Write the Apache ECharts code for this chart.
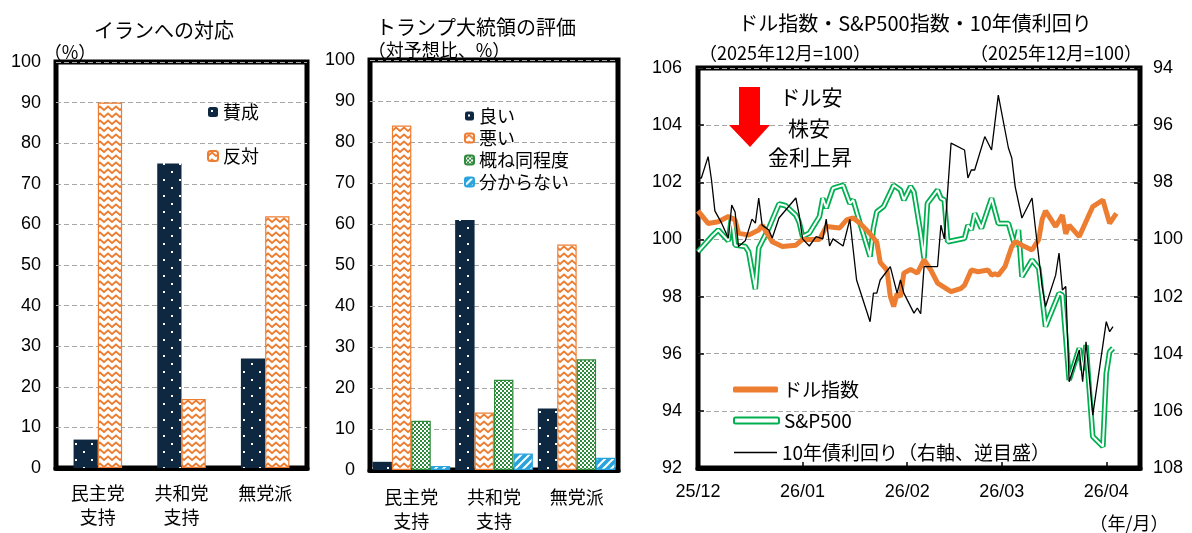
<!DOCTYPE html>
<html><head><meta charset="utf-8">
<script src="https://cdn.jsdelivr.net/npm/echarts@6/dist/echarts.min.js"></script>
<style>html,body{margin:0;padding:0;background:#fff}#c{width:1192px;height:533px}</style>
</head><body><div id="c"></div>
<script>
// ---------- Panel 1: イランへの対応 ----------
const iranCategories = ['民主党\n支持', '共和党\n支持', '無党派'];
const iranFavor = [7, 75, 27];     // 賛成
const iranOppose = [90, 17, 62];   // 反対
// ---------- Panel 2: トランプ大統領の評価 ----------
const trumpCategories = ['民主党\n支持', '共和党\n支持', '無党派'];
const trumpGood = [2, 61, 15];     // 良い
const trumpBad = [84, 14, 55];     // 悪い
const trumpSame = [12, 22, 27];    // 概ね同程度
const trumpUnknown = [1, 4, 3];    // 分からない
// ---------- Panel 3 ----------
const xStartDate = '2025-12-01';
const xEndDate = '2026-04-11';
const xTickDates = ['2025-12-01', '2026-01-01', '2026-02-01', '2026-03-01', '2026-04-01'];
const xTickLabels = ['25/12', '26/01', '26/02', '26/03', '26/04'];

const dxyDates = ['2025-12-01','2025-12-04','2025-12-07','2025-12-10','2025-12-12','2025-12-13','2025-12-16','2025-12-19','2025-12-20','2025-12-23','2025-12-26','2025-12-30',
 '2026-01-01','2026-01-06','2026-01-08','2026-01-12','2026-01-14','2026-01-16','2026-01-18','2026-01-21','2026-01-23','2026-01-24','2026-01-26','2026-01-27','2026-01-28','2026-01-29','2026-01-30','2026-01-31',
 '2026-02-02','2026-02-04','2026-02-06','2026-02-08','2026-02-10','2026-02-14','2026-02-17','2026-02-18','2026-02-20','2026-02-22','2026-02-25','2026-02-26','2026-02-27','2026-02-28',
 '2026-03-02','2026-03-04','2026-03-05','2026-03-06','2026-03-07','2026-03-10','2026-03-12','2026-03-13','2026-03-14','2026-03-17','2026-03-19','2026-03-20','2026-03-21','2026-03-24','2026-03-28','2026-03-31',
 '2026-04-02','2026-04-04'];
const dxyValues = [101.0,100.56,100.62,100.8,100.68,100.22,100.15,100.33,100.5,99.92,99.75,99.8,
 100.0,100.0,100.45,100.4,100.68,100.75,100.57,100.2,99.9,99.2,98.93,98.0,97.65,98.1,98.0,98.82,
 98.95,98.82,99.28,98.93,98.47,98.17,98.29,98.4,98.93,98.87,98.93,98.75,98.8,98.75,
 99.05,99.75,99.92,99.87,99.8,99.63,100.0,100.7,101.0,100.45,100.85,100.2,100.5,100.1,101.15,101.38,
 100.56,100.91];

const spxDates = ['2025-12-01','2025-12-05','2025-12-07','2025-12-10','2025-12-11','2025-12-12','2025-12-15','2025-12-16','2025-12-18','2025-12-19','2025-12-22','2025-12-25','2025-12-27','2025-12-30','2025-12-31',
 '2026-01-01','2026-01-03','2026-01-06','2026-01-07','2026-01-08','2026-01-10','2026-01-13','2026-01-15','2026-01-16','2026-01-17','2026-01-21','2026-01-22','2026-01-23','2026-01-25','2026-01-28','2026-01-30','2026-01-31',
 '2026-02-01','2026-02-02','2026-02-03','2026-02-05','2026-02-06','2026-02-07','2026-02-10','2026-02-11','2026-02-12','2026-02-13','2026-02-18','2026-02-19','2026-02-20','2026-02-21','2026-02-23','2026-02-26','2026-02-28',
 '2026-03-03','2026-03-04','2026-03-05','2026-03-06','2026-03-07','2026-03-10','2026-03-12','2026-03-14','2026-03-18','2026-03-19','2026-03-21','2026-03-24','2026-03-25','2026-03-26','2026-03-28','2026-03-31',
 '2026-04-01','2026-04-02','2026-04-03'];
const spxValues = [99.57,100.1,100.33,99.95,100.8,99.8,99.75,99.57,98.26,99.7,100.4,101.24,101.18,100.85,100.6,
 100.1,100.22,100.8,101.44,101.1,101.79,101.9,101.26,101.38,100.97,99.4,100.4,100.97,101.15,101.9,101.73,101.38,
 101.61,101.85,101.66,100.22,99.34,101.26,101.73,101.44,101.38,99.92,100.04,100.5,100.33,100.91,100.39,101.44,100.56,
 100.56,100.15,99.75,100.33,98.7,99.28,98.99,96.95,98.11,98.05,95.08,96.19,95.43,96.3,93.1,92.75,
 95.31,96.07,96.19];

const yieldDates = ['2025-12-01','2025-12-02','2025-12-04','2025-12-05','2025-12-06','2025-12-08','2025-12-10','2025-12-11','2025-12-12','2025-12-13','2025-12-15','2025-12-17','2025-12-18','2025-12-19','2025-12-20','2025-12-22','2025-12-23','2025-12-25','2025-12-27','2025-12-30','2025-12-31',
 '2026-01-01','2026-01-03','2026-01-05','2026-01-07','2026-01-08','2026-01-09','2026-01-10','2026-01-13','2026-01-15','2026-01-17','2026-01-21','2026-01-22','2026-01-23','2026-01-24','2026-01-27','2026-01-29','2026-01-30','2026-01-31',
 '2026-02-03','2026-02-04','2026-02-05','2026-02-06','2026-02-10','2026-02-11','2026-02-12','2026-02-14','2026-02-18','2026-02-19','2026-02-20','2026-02-21','2026-02-24','2026-02-26','2026-02-28',
 '2026-03-03','2026-03-04','2026-03-05','2026-03-07','2026-03-10','2026-03-11','2026-03-13','2026-03-14','2026-03-17','2026-03-18','2026-03-19','2026-03-20','2026-03-21','2026-03-24','2026-03-25','2026-03-26','2026-03-28',
 '2026-04-01','2026-04-02','2026-04-03'];
const yieldValues = [97.85,97.85,97.1,97.92,99.0,99.43,99.96,98.8,99.04,100.25,100.05,99.29,99.43,98.55,99.5,99.67,99.95,99.25,98.97,98.55,99.15,
 99.98,100.23,99.9,99.98,99.29,100.23,99.98,100.23,99.3,101.42,102.88,101.88,101.88,101.42,100.95,101.88,101.42,101.88,
 102.58,102.4,102.6,100.95,100.95,99.5,99.98,96.63,96.87,97.85,97.57,97.57,96.4,96.87,94.95,
 96.8,97.15,98.15,99.25,98.55,99.6,101.65,102.35,101.25,100.48,101.77,101.65,104.98,103.87,104.98,103.58,106.15,
 102.88,103.23,103.05];

// ---------- helpers ----------
const DAY = 86400000;
function dayOf(s) { const p = s.split('-').map(Number); return (Date.UTC(p[0], p[1] - 1, p[2]) - Date.UTC(2025, 11, 1)) / DAY; }
function pairs(dates, vals) { return dates.map((d, i) => [dayOf(d), vals[i]]); }
const xTickDays = xTickDates.map(dayOf);

const NAVY = '#0e2841', ORANGE = '#ed7d31', GREEN = '#2e8b3c', BLUE = '#29a3dc', SPX = '#00b050';
function tile(w, h, draw) { const c = document.createElement('canvas'); c.width = w; c.height = h; draw(c.getContext('2d')); return { image: c, repeat: 'repeat' }; }
const patDots = tile(16, 16, g => { g.fillStyle = NAVY; g.fillRect(0, 0, 16, 16); g.fillStyle = '#fff'; g.fillRect(3, 3, 2, 2); g.fillRect(11, 11, 2, 2); });
const patZig = tile(8, 7, g => { g.fillStyle = '#fff'; g.fillRect(0, 0, 8, 7); g.strokeStyle = ORANGE; g.lineWidth = 1.8; g.beginPath(); g.moveTo(-1, 6); g.lineTo(0, 5); g.lineTo(4, 1.5); g.lineTo(8, 5); g.lineTo(9, 6); g.stroke(); });
const patCheck = tile(4, 4, g => { g.fillStyle = '#fff'; g.fillRect(0, 0, 4, 4); g.fillStyle = GREEN; g.fillRect(0, 0, 2, 2); g.fillRect(2, 2, 2, 2); });
const patStripe = tile(8, 8, g => { g.fillStyle = BLUE; g.fillRect(0, 0, 8, 8); g.strokeStyle = '#fff'; g.lineWidth = 2; g.beginPath(); g.moveTo(-2, 10); g.lineTo(10, -2); g.moveTo(-6, 6); g.lineTo(6, -6); g.moveTo(2, 14); g.lineTo(14, 2); g.stroke(); });

const FONT = "'Liberation Sans','Noto Sans CJK JP',sans-serif";
const JP = "'Noto Sans CJK JP','Liberation Sans',sans-serif";
const split = { show: true, lineStyle: { color: '#a6a6a6', type: [5, 3], width: 1 } };
const gridStyle = { show: true, borderColor: '#000', borderWidth: 5, backgroundColor: 'transparent' };

function txt(x, y, s, size) {
  return { type: 'text', x: x, y: y, style: { text: s, font: size + 'px ' + JP, fill: '#000', align: 'center', verticalAlign: 'middle', textAlign: 'center', textVerticalAlign: 'middle' } };
}

const chart = echarts.init(document.getElementById('c'));
chart.setOption({
  animation: false,
  textStyle: { fontFamily: FONT, color: '#000' },
  grid: [
    Object.assign({ left: 56, top: 62, width: 251, height: 406 }, gridStyle),
    Object.assign({ left: 370, top: 60, width: 248, height: 410 }, gridStyle),
    Object.assign({ left: 698, top: 68, width: 442, height: 400 }, gridStyle)
  ],
  xAxis: [
    { gridIndex: 0, type: 'category', data: iranCategories,
      axisLine: { lineStyle: { color: '#000', width: 5 } },
      axisTick: { inside: true, length: 6, lineStyle: { color: '#000', width: 2 } },
      axisLabel: { fontSize: 18, lineHeight: 24, margin: 13, color: '#000', fontFamily: JP } },
    { gridIndex: 1, type: 'category', data: trumpCategories,
      axisLine: { lineStyle: { color: '#000', width: 5 } },
      axisTick: { inside: true, length: 6, lineStyle: { color: '#000', width: 2 } },
      axisLabel: { fontSize: 18, lineHeight: 24, margin: 15, color: '#000', fontFamily: JP } },
    { gridIndex: 2, type: 'value', min: dayOf(xStartDate), max: dayOf(xEndDate),
      axisLine: { lineStyle: { color: '#000', width: 5 } },
      splitLine: { show: false },
      axisTick: { inside: true, length: 6, customValues: xTickDays, lineStyle: { color: '#000', width: 1.5 } },
      axisLabel: { customValues: xTickDays, fontSize: 18, margin: 15, color: '#000',
        formatter: v => { const i = xTickDays.indexOf(v); return i >= 0 ? xTickLabels[i] : ''; } } }
  ],
  yAxis: [
    { gridIndex: 0, type: 'value', min: 0, max: 100, interval: 10, axisLine: { show: false }, axisTick: { show: false },
      splitLine: split, axisLabel: { fontSize: 18, margin: 15, color: '#000' } },
    { gridIndex: 1, type: 'value', min: 0, max: 100, interval: 10, axisLine: { show: false }, axisTick: { show: false },
      splitLine: split, axisLabel: { fontSize: 18, margin: 15, color: '#000' } },
    { gridIndex: 2, type: 'value', min: 92, max: 106, interval: 2, axisLine: { show: false },
      axisTick: { inside: true, length: 6, lineStyle: { color: '#000', width: 1.5 } },
      splitLine: split, axisLabel: { fontSize: 18, margin: 16, color: '#000' } },
    { gridIndex: 2, type: 'value', min: 94, max: 108, interval: 2, inverse: true, position: 'right', axisLine: { show: false },
      axisTick: { inside: true, length: 6, lineStyle: { color: '#000', width: 1.5 } },
      splitLine: { show: false }, axisLabel: { fontSize: 18, margin: 13, color: '#000' } }
  ],
  legend: [
    { data: ['賛成', '反対'], orient: 'vertical', left: 202, top: 98, itemWidth: 10, itemHeight: 10, itemGap: 26,
      textStyle: { fontSize: 18, fontFamily: JP, color: '#000' }, selectedMode: false },
    { data: ['良い', '悪い', '概ね同程度', '分からない'], orient: 'vertical', left: 459, top: 102, itemWidth: 9, itemHeight: 9, itemGap: 4,
      textStyle: { fontSize: 18, fontFamily: JP, color: '#000' }, selectedMode: false },
    { data: [{ name: 'ドル指数', icon: 'roundRect' }], left: 728, top: 375, itemWidth: 45, itemHeight: 6,
      textStyle: { fontSize: 19, fontFamily: JP, color: '#000' }, selectedMode: false },
    { data: [{ name: 'S&P500', icon: 'roundRect', itemStyle: { color: '#fff', borderColor: SPX, borderWidth: 2 } }], left: 728, top: 406, itemWidth: 45, itemHeight: 6,
      textStyle: { fontSize: 19, fontFamily: JP, color: '#000' }, selectedMode: false },
    { data: [{ name: '10年債利回り（右軸、逆目盛）', icon: 'rect' }], left: 729, top: 438, itemWidth: 43, itemHeight: 1.5,
      textStyle: { fontSize: 19, fontFamily: JP, color: '#000' }, selectedMode: false }
  ],
  series: [
    { name: '賛成', type: 'bar', xAxisIndex: 0, yAxisIndex: 0, data: iranFavor, barGap: '0%', barCategoryGap: '42%',
      itemStyle: { color: patDots } },
    { name: '反対', type: 'bar', xAxisIndex: 0, yAxisIndex: 0, data: iranOppose,
      itemStyle: { color: patZig, borderColor: ORANGE, borderWidth: 1.2 } },
    { name: '良い', type: 'bar', xAxisIndex: 1, yAxisIndex: 1, data: trumpGood, barGap: '0%', barCategoryGap: '6%',
      itemStyle: { color: patDots } },
    { name: '悪い', type: 'bar', xAxisIndex: 1, yAxisIndex: 1, data: trumpBad,
      itemStyle: { color: patZig, borderColor: ORANGE, borderWidth: 1.2 } },
    { name: '概ね同程度', type: 'bar', xAxisIndex: 1, yAxisIndex: 1, data: trumpSame,
      itemStyle: { color: patCheck, borderColor: GREEN, borderWidth: 1.2 } },
    { name: '分からない', type: 'bar', xAxisIndex: 1, yAxisIndex: 1, data: trumpUnknown,
      itemStyle: { color: patStripe, borderColor: BLUE, borderWidth: 1.2 } },
    { name: 'S&P500', type: 'line', xAxisIndex: 2, yAxisIndex: 2, data: pairs(spxDates, spxValues), symbol: 'none',
      color: SPX, lineStyle: { color: SPX, width: 5.5 }, z: 2 },
    { name: 'S&P500-inner', type: 'line', xAxisIndex: 2, yAxisIndex: 2, data: pairs(spxDates, spxValues), symbol: 'none',
      color: '#fff', lineStyle: { color: '#fff', width: 2 }, z: 3 },
    { name: 'ドル指数', type: 'line', xAxisIndex: 2, yAxisIndex: 2, data: pairs(dxyDates, dxyValues), symbol: 'none',
      color: ORANGE, lineStyle: { color: ORANGE, width: 5 }, z: 4 },
    { name: '10年債利回り（右軸、逆目盛）', type: 'line', xAxisIndex: 2, yAxisIndex: 3, data: pairs(yieldDates, yieldValues), symbol: 'none',
      color: '#000', lineStyle: { color: '#000', width: 1.3 }, z: 5 }
  ],
  graphic: [
    txt(164, 30, 'イランへの対応', 20),
    txt(70, 52, '（%）', 18),
    txt(476, 27, 'トランプ大統領の評価', 20),
    txt(439, 50, '（対予想比、%）', 18),
    txt(915, 23, 'ドル指数・S&P500指数・10年債利回り', 20),
    txt(785, 53, '（2025年12月=100）', 18),
    txt(1056, 53, '（2025年12月=100）', 18),
    txt(1129, 523, '（年/月）', 18),
    txt(811, 97, 'ドル安', 21),
    txt(809, 128, '株安', 21),
    txt(810, 157, '金利上昇', 21),
    { type: 'polygon', shape: { points: [[739, 87], [760, 87], [760, 125], [770, 125], [750, 147], [729, 125], [739, 125]] },
      style: { fill: '#ff0000' }, z: 10 }
  ]
});
</script></body></html>
